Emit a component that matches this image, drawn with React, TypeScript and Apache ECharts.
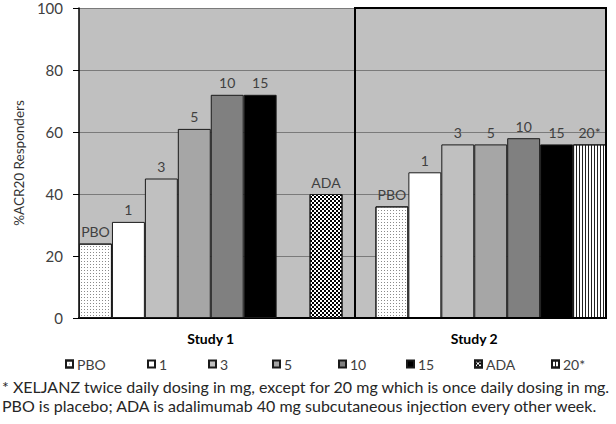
import React, { useEffect, useRef } from "react";
import * as echarts from "echarts";

// 16 slots on the category axis: Study 1 (6 doses, gap, ADA), gap, Study 2 (7 arms)
const slots = ["S1-PBO", "S1-1", "S1-3", "S1-5", "S1-10", "S1-15", "S1-gap", "S1-ADA", "gap", "S2-PBO", "S2-1", "S2-3", "S2-5", "S2-10", "S2-15", "S2-20"];
const studies = ["Study 1", "Study 2"];
const treatments = ["PBO", "1", "3", "5", "10", "15", "ADA", "20*"];
// % ACR20 responders per treatment (null = not in that study)
const study1Values = [24, 31, 45, 61, 72, 72, 40, null];
const study2Values = [36, 47, 56, 56, 58, 56, null, 56];
// slot index of each treatment in each study
const study1Slots = [0, 1, 2, 3, 4, 5, 7, -1];
const study2Slots = [9, 10, 11, 12, 13, 14, -1, 15];
const yTicks = [0, 20, 40, 60, 80, 100];
const footnotes = [
  "* XELJANZ twice daily dosing in mg, except for 20 mg which is once daily dosing in mg.",
  "PBO is placebo; ADA is adalimumab 40 mg subcutaneous injection every other week.",
];

const FONT = "Lato";
// layout: left edge of each legend entry
const LEGEND_LEFT = [65, 147, 208, 272, 338, 406, 474, 551];

const fills: any[] = [
  { color: "#ffffff", decal: { symbol: "rect", symbolSize: 1, dashArrayX: [1, 2], dashArrayY: [1, 2], color: "#8a8a8a" } },
  { color: "#ffffff" },
  { color: "#c0c0c0" },
  { color: "#a6a6a6" },
  { color: "#808080" },
  { color: "#000000" },
  { color: "#ffffff", decal: { symbol: "rect", symbolSize: 1, dashArrayX: [[2, 2], [0, 2, 2, 0]], dashArrayY: [2, 0], color: "#000000" } },
  { color: "#ffffff", decal: { symbol: "rect", symbolSize: 1, dashArrayX: [1, 2], dashArrayY: [4, 0], color: "#222222" } },
];

export default function App() {
  const ref = useRef<HTMLDivElement>(null);
  useEffect(() => {
    if (!ref.current) return;
    const chart = echarts.init(ref.current, null, { renderer: "svg" });
    const series = treatments.map((t, i) => {
      const data: any[] = slots.map(() => "-");
      if (study1Slots[i] >= 0 && study1Values[i] != null) data[study1Slots[i]] = study1Values[i];
      if (study2Slots[i] >= 0 && study2Values[i] != null) data[study2Slots[i]] = study2Values[i];
      return {
        name: t,
        type: "bar",
        xAxisIndex: 0,
        barWidth: "100%",
        barGap: "-100%",
        data,
        itemStyle: { ...fills[i], borderColor: "#1a1a1a", borderWidth: 1 },
        label: {
          show: true,
          position: "top",
          distance: 5,
          formatter: "{a}",
          fontFamily: FONT,
          fontSize: 14,
          color: "#404040",
        },
      };
    });
    chart.setOption({
      animation: false,
      textStyle: { fontFamily: FONT },
      grid: {
        left: 79,
        right: 10,
        top: 8,
        bottom: 106,
        show: true,
        backgroundColor: "#c0c0c0",
        borderWidth: 0,
        containLabel: false,
      },
      legend: treatments.map((t, i) => ({
        data: [t],
        left: LEGEND_LEFT[i],
        top: 357,
        padding: 0,
        icon: "rect",
        itemWidth: 7,
        itemHeight: 7,
        textStyle: { fontFamily: FONT, fontSize: 14, color: "#404040", padding: [0, 0, 0, -1] },
      })),
      xAxis: [
        {
          type: "category",
          data: slots,
          axisLine: { lineStyle: { color: "#000", width: 2 } },
          axisTick: { show: false },
          axisLabel: { show: false },
        },
        {
          type: "category",
          data: studies,
          position: "bottom",
          axisLine: { show: false },
          axisTick: { show: false },
          axisLabel: { fontFamily: FONT, fontSize: 14, fontWeight: "bold", color: "#000", margin: 13 },
        },
      ],
      yAxis: {
        type: "value",
        min: yTicks[0],
        max: yTicks[yTicks.length - 1],
        interval: 20,
        name: "%ACR20 Responders",
        nameLocation: "middle",
        nameRotate: 90,
        nameGap: 51,
        nameTextStyle: { fontFamily: FONT, fontSize: 13.5, color: "#333333" },
        axisLine: { show: true, lineStyle: { color: "#000", width: 1.5 } },
        axisTick: { show: true, length: 6, lineStyle: { color: "#000" } },
        axisLabel: { fontFamily: FONT, fontSize: 15, color: "#404040", margin: 16 },
        splitLine: { show: true, lineStyle: { color: "#7a7a7a", width: 1 } },
      },
      graphic: [
        {
          type: "rect",
          shape: { x: 355, y: 8, width: 251, height: 310 },
          style: { fill: "none", stroke: "#000", lineWidth: 2 },
          z: 100,
        },
        ...footnotes.map((t, i) => ({
          type: "text",
          left: 2,
          top: 378 + i * 19,
          style: { text: t, fontFamily: FONT, fontSize: 16, fill: "#262626" },
        })),
      ],
      series,
    });
    return () => chart.dispose();
  }, []);
  return <div ref={ref} style={{ position: "fixed", left: 0, top: 0, width: 616, height: 424, background: "#fff" }} />;
}
